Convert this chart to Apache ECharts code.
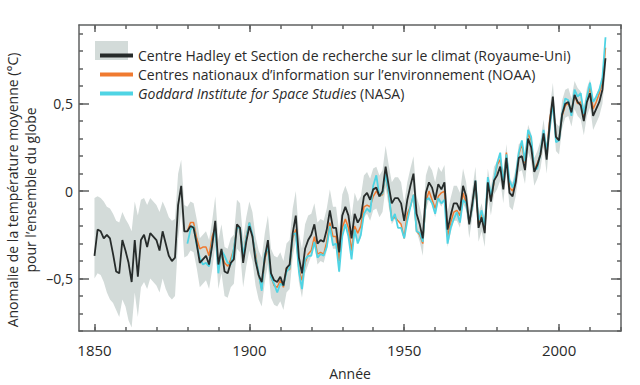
<!DOCTYPE html>
<html>
<head>
<meta charset="utf-8">
<script src="https://cdn.jsdelivr.net/npm/echarts@6/dist/echarts.min.js"></script>
<style>html,body{margin:0;padding:0;background:#fff}#c{width:640px;height:385px}</style>
</head>
<body>
<div id="c"></div>
<script>
// ---- data (anomalies in °C relative to 1961-1990) ----
const hadStartYear = 1850;
const hadcrut = [
-0.37,-0.22,-0.23,-0.27,-0.25,-0.27,-0.36,-0.46,-0.47,-0.28,
-0.34,-0.41,-0.52,-0.28,-0.49,-0.28,-0.25,-0.32,-0.24,-0.26,
-0.28,-0.34,-0.23,-0.30,-0.37,-0.40,-0.38,-0.08,0.03,-0.23,
-0.23,-0.20,-0.21,-0.30,-0.41,-0.39,-0.37,-0.42,-0.31,-0.17,
-0.42,-0.33,-0.46,-0.47,-0.41,-0.39,-0.19,-0.21,-0.41,-0.29,
-0.20,-0.26,-0.40,-0.48,-0.52,-0.38,-0.28,-0.47,-0.51,-0.52,
-0.49,-0.54,-0.44,-0.42,-0.24,-0.14,-0.38,-0.47,-0.33,-0.28,
-0.25,-0.19,-0.30,-0.28,-0.29,-0.22,-0.11,-0.21,-0.21,-0.35,
-0.14,-0.09,-0.14,-0.27,-0.13,-0.18,-0.15,-0.03,-0.01,-0.05,
0.01,0.02,-0.03,0.00,0.14,0.03,-0.07,-0.04,-0.04,-0.07,
-0.17,-0.05,0.03,0.10,-0.13,-0.19,-0.27,-0.01,0.05,0.02,
-0.05,0.04,0.01,0.05,-0.22,-0.14,-0.07,-0.07,-0.11,0.03,
-0.03,-0.19,-0.07,0.06,-0.21,-0.15,-0.24,0.05,-0.06,0.06,
0.09,0.14,0.01,0.19,-0.01,-0.03,0.05,0.19,0.20,0.12,
0.30,0.25,0.11,0.15,0.21,0.33,0.18,0.39,0.54,0.31,
0.29,0.44,0.50,0.51,0.45,0.55,0.51,0.49,0.40,0.51,
0.56,0.43,0.47,0.51,0.58,0.76
];
const hadcrutLow = [
-0.50,-0.47,-0.48,-0.52,-0.58,-0.62,-0.64,-0.68,-0.72,-0.62,
-0.66,-0.74,-0.78,-0.58,-0.72,-0.55,-0.52,-0.56,-0.50,-0.52,
-0.54,-0.58,-0.50,-0.56,-0.60,-0.62,-0.60,-0.28,-0.12,-0.38,
-0.37,-0.34,-0.35,-0.44,-0.55,-0.53,-0.51,-0.56,-0.45,-0.31,
-0.56,-0.47,-0.60,-0.61,-0.55,-0.53,-0.33,-0.35,-0.55,-0.43,
-0.34,-0.40,-0.54,-0.62,-0.66,-0.52,-0.42,-0.61,-0.65,-0.66,
-0.63,-0.68,-0.58,-0.56,-0.38,-0.28,-0.52,-0.61,-0.47,-0.42,
-0.37,-0.31,-0.42,-0.40,-0.41,-0.34,-0.23,-0.33,-0.33,-0.47,
-0.26,-0.21,-0.26,-0.39,-0.25,-0.30,-0.27,-0.15,-0.13,-0.17,
-0.11,-0.10,-0.15,-0.12,0.02,-0.09,-0.19,-0.16,-0.16,-0.19,
-0.27,-0.15,-0.07,0.00,-0.23,-0.29,-0.37,-0.11,-0.05,-0.08,
-0.15,-0.06,-0.09,-0.05,-0.32,-0.24,-0.17,-0.17,-0.21,-0.07,
-0.11,-0.27,-0.15,-0.02,-0.29,-0.23,-0.32,-0.03,-0.14,-0.02,
0.01,0.06,-0.07,0.11,-0.09,-0.11,-0.03,0.11,0.12,0.04,
0.22,0.17,0.03,0.07,0.13,0.25,0.10,0.31,0.46,0.23,
0.21,0.36,0.42,0.43,0.37,0.47,0.43,0.41,0.32,0.43,
0.48,0.35,0.39,0.43,0.50,0.68
];
const hadcrutHigh = [
-0.04,-0.03,-0.04,-0.06,-0.09,-0.10,-0.13,-0.17,-0.18,-0.12,
-0.16,-0.19,-0.23,-0.06,-0.14,-0.05,-0.04,-0.08,-0.04,-0.06,
-0.08,-0.12,-0.06,-0.10,-0.15,-0.17,-0.16,0.10,0.18,-0.08,
-0.09,-0.06,-0.07,-0.16,-0.27,-0.25,-0.23,-0.28,-0.17,-0.03,
-0.28,-0.19,-0.32,-0.33,-0.27,-0.25,-0.05,-0.07,-0.27,-0.15,
-0.06,-0.12,-0.26,-0.34,-0.38,-0.24,-0.14,-0.33,-0.37,-0.38,
-0.35,-0.40,-0.30,-0.28,-0.10,0.00,-0.24,-0.33,-0.19,-0.14,
-0.13,-0.07,-0.18,-0.16,-0.17,-0.10,0.01,-0.09,-0.09,-0.23,
-0.02,0.03,-0.02,-0.15,-0.01,-0.06,-0.03,0.09,0.11,0.07,
0.13,0.14,0.09,0.12,0.26,0.15,0.05,0.08,0.08,0.05,
-0.07,0.05,0.13,0.20,-0.03,-0.09,-0.17,0.09,0.15,0.12,
0.05,0.14,0.11,0.15,-0.12,-0.04,0.03,0.03,-0.01,0.13,
0.05,-0.11,0.01,0.14,-0.13,-0.07,-0.16,0.13,0.02,0.14,
0.17,0.22,0.09,0.27,0.07,0.05,0.13,0.27,0.28,0.20,
0.38,0.33,0.19,0.23,0.29,0.41,0.26,0.47,0.62,0.39,
0.37,0.52,0.58,0.59,0.53,0.63,0.59,0.57,0.48,0.59,
0.64,0.51,0.55,0.59,0.66,0.84
];
const otherStartYear = 1880;
const noaa = [
-0.23,-0.18,-0.18,-0.27,-0.33,-0.32,-0.32,-0.37,-0.26,-0.21,
-0.44,-0.36,-0.41,-0.43,-0.39,-0.33,-0.20,-0.22,-0.38,-0.26,
-0.18,-0.26,-0.36,-0.48,-0.56,-0.39,-0.32,-0.49,-0.54,-0.55,
-0.51,-0.55,-0.44,-0.45,-0.27,-0.22,-0.45,-0.51,-0.41,-0.36,
-0.34,-0.26,-0.36,-0.35,-0.36,-0.29,-0.18,-0.26,-0.26,-0.40,
-0.21,-0.16,-0.21,-0.34,-0.20,-0.24,-0.20,-0.09,-0.08,-0.09,
-0.03,0.00,-0.03,-0.02,0.10,-0.02,-0.16,-0.15,-0.17,-0.19,
-0.27,-0.13,-0.09,-0.02,-0.23,-0.25,-0.30,-0.06,0.00,-0.05,
-0.10,-0.03,-0.01,0.00,-0.26,-0.18,-0.12,-0.11,-0.14,-0.01,
-0.07,-0.18,-0.09,0.05,-0.19,-0.13,-0.22,0.06,-0.05,0.05,
0.15,0.18,0.06,0.22,0.02,0.00,0.06,0.21,0.27,0.16,
0.33,0.29,0.12,0.16,0.21,0.34,0.22,0.41,0.52,0.30,
0.30,0.43,0.49,0.50,0.46,0.55,0.50,0.51,0.43,0.53,
0.59,0.47,0.51,0.56,0.63,0.82
];
const nasa = [
-0.30,-0.22,-0.20,-0.31,-0.38,-0.42,-0.41,-0.43,-0.30,-0.21,
-0.47,-0.34,-0.37,-0.41,-0.42,-0.33,-0.21,-0.21,-0.37,-0.27,
-0.18,-0.25,-0.38,-0.47,-0.57,-0.36,-0.32,-0.49,-0.53,-0.58,
-0.53,-0.54,-0.46,-0.44,-0.25,-0.24,-0.46,-0.56,-0.39,-0.37,
-0.37,-0.29,-0.38,-0.36,-0.37,-0.32,-0.20,-0.31,-0.30,-0.46,
-0.26,-0.19,-0.26,-0.39,-0.22,-0.30,-0.25,-0.13,-0.10,-0.12,
0.03,0.09,-0.03,-0.01,0.10,-0.01,-0.17,-0.13,-0.21,-0.21,
-0.27,-0.17,-0.09,-0.02,-0.23,-0.24,-0.29,-0.05,-0.04,-0.07,
-0.13,-0.04,-0.07,-0.05,-0.30,-0.21,-0.16,-0.12,-0.18,-0.05,
-0.07,-0.18,-0.09,0.06,-0.17,-0.11,-0.20,0.08,-0.03,0.06,
0.16,0.22,0.04,0.21,0.06,0.02,0.08,0.22,0.29,0.17,
0.35,0.31,0.12,0.13,0.22,0.35,0.23,0.36,0.51,0.28,
0.29,0.44,0.53,0.52,0.43,0.58,0.54,0.56,0.44,0.54,
0.62,0.51,0.54,0.58,0.65,0.88
];
const yearTicks = [1850,1860,1870,1880,1890,1900,1910,1920,1930,1940,1950,1960,1970,1980,1990,2000,2010,2020];
const yearLabels = [1850,1900,1950,2000];
const tempTicks = [-0.8,-0.7,-0.6,-0.5,-0.4,-0.3,-0.2,-0.1,0,0.1,0.2,0.3,0.4,0.5,0.6,0.7,0.8,0.9];
const tempLabels = [-0.5,0,0.5];
const seriesNames = [
  'Centre Hadley et Section de recherche sur le climat (Royaume-Uni)',
  'Centres nationaux d\u2019information sur l\u2019environnement (NOAA)',
  'Goddard Institute for Space Studies (NASA)'
];

// ---- styling ----
const FONT = 'Open Sans';
const axisColor = '#5f6161';
const textColor = '#2a2a2a';
const bandColor = '#d3dbd9';
const hadColor = '#262b2a';
const noaaColor = '#f07a30';
const nasaColor = '#4fd4e4';

const toPairs = (start, arr) => arr.map((v, i) => [start + i, v]);
const hadPairs = toPairs(hadStartYear, hadcrut);
const noaaPairs = toPairs(otherStartYear, noaa);
const nasaPairs = toPairs(otherStartYear, nasa);

const chart = echarts.init(document.getElementById('c'), null, {renderer: 'svg'});

function xAx(pos, showLine, len, ticks, extra) {
  return Object.assign({
    type: 'value', position: pos, min: 1845, max: 2020,
    axisLine: {show: showLine, onZero: false, lineStyle: {color: axisColor, width: 1.5}},
    axisTick: {show: true, inside: true, length: len, customValues: ticks, lineStyle: {color: axisColor, width: 1.5}},
    axisLabel: {show: false},
    splitLine: {show: false}
  }, extra || {});
}
function yAx(pos, showLine, len, ticks, extra) {
  return Object.assign({
    type: 'value', position: pos, min: -0.8, max: 0.95,
    axisLine: {show: showLine, onZero: false, lineStyle: {color: axisColor, width: 1.5}},
    axisTick: {show: true, inside: true, length: len, customValues: ticks, lineStyle: {color: axisColor, width: 1.5}},
    axisLabel: {show: false},
    splitLine: {show: false}
  }, extra || {});
}

const option = {
  animation: false,
  backgroundColor: '#fff',
  grid: {left: 79, top: 25, width: 542, height: 308, containLabel: false},
  xAxis: [
    xAx('bottom', true, 4, yearTicks, {
      axisLabel: {show: true, customValues: yearLabels, margin: 11, fontFamily: FONT, fontSize: 15, color: textColor,
        formatter: v => String(v)},
      name: 'Ann\u00e9e', nameLocation: 'middle', nameGap: 35,
      nameTextStyle: {fontFamily: FONT, fontSize: 14, color: textColor}
    }),
    xAx('bottom', false, 7, yearLabels),
    xAx('top', true, 4, yearTicks),
    xAx('top', false, 7, yearLabels)
  ],
  yAxis: [
    yAx('left', true, 4, tempTicks, {
      axisLabel: {show: true, customValues: tempLabels, margin: 6, fontFamily: FONT, fontSize: 14, color: textColor,
        formatter: v => v === 0 ? '0' : (v < 0 ? '\u2013' : '') + Math.abs(v).toFixed(1).replace('.', ',')}
    }),
    yAx('left', false, 10, tempLabels),
    yAx('right', true, 4, tempTicks),
    yAx('right', false, 10, tempLabels)
  ],
  legend: {
    orient: 'vertical', left: 95, top: 41, itemWidth: 33, itemHeight: 4, itemGap: 0,
    icon: 'rect', selectedMode: false,
    data: seriesNames,
    textStyle: {fontFamily: FONT, fontSize: 14, color: textColor, lineHeight: 19,
      rich: {it: {fontFamily: FONT, fontSize: 14, color: textColor, fontStyle: 'italic', lineHeight: 19}}},
    formatter: name => name === seriesNames[2] ? '{it|Goddard Institute for Space Studies} (NASA)' : name
  },
  graphic: [
    {type: 'rect', left: 95, top: 41, z: 1, shape: {width: 33, height: 19}, style: {fill: bandColor}},
    {type: 'text', x: 3, y: 190, rotation: Math.PI / 2, z: 5,
      style: {text: 'Anomalie de la temp\u00e9rature moyenne (\u00b0C)\npour l\u2019ensemble du globe',
        fontFamily: FONT, fontSize: 14, fill: textColor, align: 'center', verticalAlign: 'top', lineHeight: 18}}
  ],
  series: [
    {
      type: 'custom', name: 'band', silent: true, z: 1, clip: true,
      data: [[hadStartYear, 0]],
      renderItem: function (params, api) {
        const upper = hadcrutHigh.map((v, i) => api.coord([hadStartYear + i, v]));
        const lower = hadcrutLow.map((v, i) => api.coord([hadStartYear + i, v])).reverse();
        return {type: 'polygon', shape: {points: upper.concat(lower)}, style: {fill: bandColor}};
      }
    },
    {type: 'line', name: seriesNames[1], data: noaaPairs, z: 2, showSymbol: false, symbol: 'none',
      color: noaaColor, itemStyle: {color: noaaColor}, lineStyle: {color: noaaColor, width: 1.5}},
    {type: 'line', name: seriesNames[2], data: nasaPairs, z: 3, showSymbol: false, symbol: 'none',
      color: nasaColor, itemStyle: {color: nasaColor}, lineStyle: {color: nasaColor, width: 1.8}},
    {type: 'line', name: seriesNames[0], data: hadPairs, z: 4, showSymbol: false, symbol: 'none',
      color: hadColor, itemStyle: {color: hadColor}, lineStyle: {color: hadColor, width: 1.8}}
  ]
};
chart.setOption(option);
</script>
</body>
</html>
